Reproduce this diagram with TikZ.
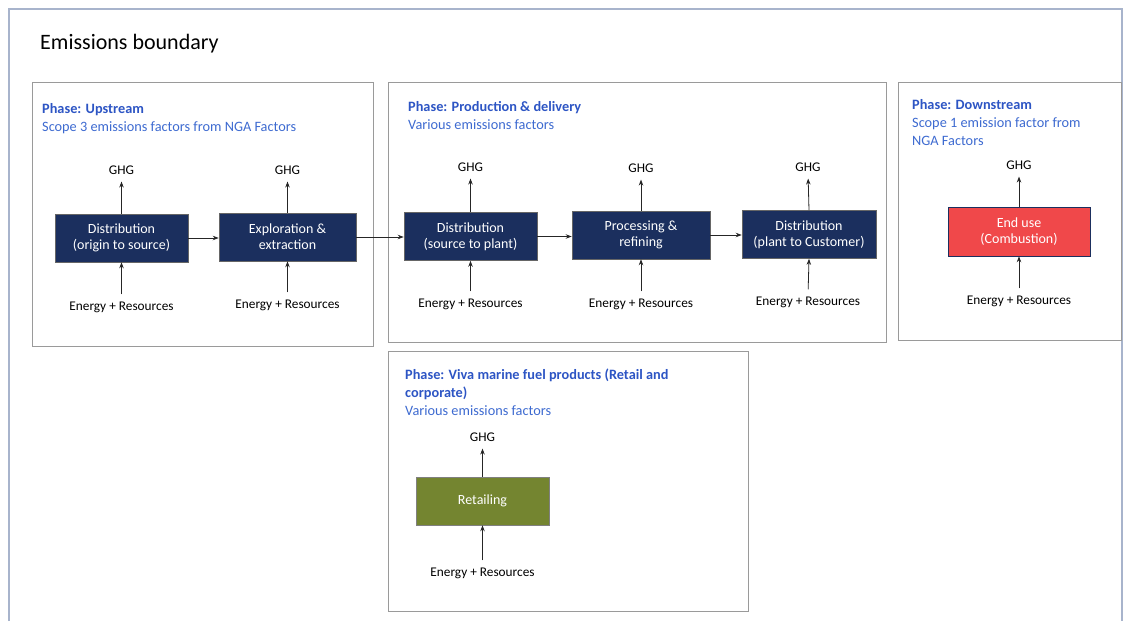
\documentclass[tikz,border=0pt]{standalone}
\usepackage{fontspec}
\setmainfont{Carlito}
\usetikzlibrary{arrows.meta}
\definecolor{navy}{HTML}{1B2F5E}
\definecolor{redbox}{HTML}{F0484A}
\definecolor{olive}{HTML}{748530}
\definecolor{phaseblue}{HTML}{2D55C4}
\definecolor{subblue}{HTML}{3D6AD0}
\definecolor{panelgray}{HTML}{9A9A9A}
\definecolor{framecol}{HTML}{A8B4CC}
\tikzset{
  panel/.style={draw=panelgray, line width=1pt},
  procbox/.style={draw=black!60, line width=0.6pt, fill=navy, text=white, minimum width=133pt, minimum height=48pt, align=center, font=\fontsize{14}{16}\selectfont, inner sep=0pt},
  lbl/.style={font=\fontsize{13.3}{15}\selectfont, inner sep=1pt},
  phasetxt/.style={anchor=north west, align=left, inner sep=0pt, font=\fontsize{14.3}{18}\selectfont},
  flow/.style={-{Stealth[length=6pt,width=4.5pt]}, line width=0.8pt, black!85},
  up/.style={flow, shorten >=6pt},
  upin/.style={flow, shorten <=6pt},
}
\begin{document}
\begin{tikzpicture}[x=1pt,y=-1pt]
\useasboundingbox (0,0) rectangle (1124,623);
% outer frame
\draw[framecol, line width=1.2pt] (9,621) -- (9,9) -- (1122,9) -- (1122,621);
\node[anchor=west, inner sep=0pt, font=\fontsize{22}{24}\selectfont] (title) at (40,44) {Emissions boundary};

% panels
\draw[panel] (32,83) rectangle (373,346);
\draw[panel] (388,83) rectangle (886,342);
\draw[panel] (898,83) rectangle (1121,340);
\draw[panel] (388,351) rectangle (748,611);

% panel headings
\node[phasetxt] (ph1) at (42,103) {\textcolor{phaseblue}{\textbf{Phase: Upstream}}\\\textcolor{subblue}{Scope 3 emissions factors from NGA Factors}};
\node[phasetxt] (ph2) at (408,101) {\textcolor{phaseblue}{\textbf{Phase: Production \& delivery}}\\\textcolor{subblue}{Various emissions factors}};
\node[phasetxt] (ph3) at (912,99) {\textcolor{phaseblue}{\textbf{Phase: Downstream}}\\\textcolor{subblue}{Scope 1 emission factor from}\\\textcolor{subblue}{NGA Factors}};
\node[phasetxt] (ph4) at (405,369) {\textcolor{phaseblue}{\textbf{Phase: Viva marine fuel products (Retail and}}\\\textcolor{phaseblue}{\textbf{corporate)}}\\\textcolor{subblue}{Various emissions factors}};

% process boxes
\node[procbox] (d1) at (121.5,238) {Distribution\\(origin to source)};
\node[procbox, minimum width=137pt] (ex) at (287.5,237) {Exploration \&\\extraction};
\node[procbox] (d2) at (470.5,236.5) {Distribution\\(source to plant)};
\node[procbox, minimum width=138pt] (pr) at (641,235) {Processing \&\\refining};
\node[procbox, minimum width=134pt] (d3) at (809,234.5) {Distribution\\(plant to Customer)};
\node[procbox, fill=redbox, draw=navy, minimum width=142pt, minimum height=49pt] (eu) at (1019,231.5) {End use\\(Combustion)};
\node[procbox, fill=olive, draw=black!50] (rt) at (482.5,501) {Retailing};

% GHG labels
\node[lbl] (g1) at (121.5,170) {GHG};
\node[lbl] (g2) at (287.5,170) {GHG};
\node[lbl] (g3) at (470.5,167) {GHG};
\node[lbl] (g4) at (641,168) {GHG};
\node[lbl] (g5) at (808,167) {GHG};
\node[lbl] (g6) at (1019,165) {GHG};
\node[lbl] (g7) at (482.5,437) {GHG};

% Energy labels
\node[lbl] (e1) at (121.5,307) {Energy + Resources};
\node[lbl] (e2) at (287.5,305) {Energy + Resources};
\node[lbl] (e3) at (470.5,304) {Energy + Resources};
\node[lbl] (e4) at (641,304) {Energy + Resources};
\node[lbl] (e5) at (808,302) {Energy + Resources};
\node[lbl] (e6) at (1019,301) {Energy + Resources};
\node[lbl] (e7) at (482.5,573) {Energy + Resources};

% flows
\foreach \b/\g/\e in {d1/g1/e1, ex/g2/e2, d2/g3/e3, pr/g4/e4, d3/g5/e5, eu/g6/e6, rt/g7/e7}{
  \draw[up] (\b.north) -- (\g.south);
  \draw[upin] (\e.north) -- (\b.south);
}
\draw[flow] (d1.east) -- (ex.west |- d1.east);
\draw[flow] (ex.east) -- (d2.west |- ex.east);
\draw[flow] (d2.east) -- (pr.west |- d2.east);
\draw[flow] (pr.east) -- (d3.west |- pr.east);
\end{tikzpicture}
\end{document}
